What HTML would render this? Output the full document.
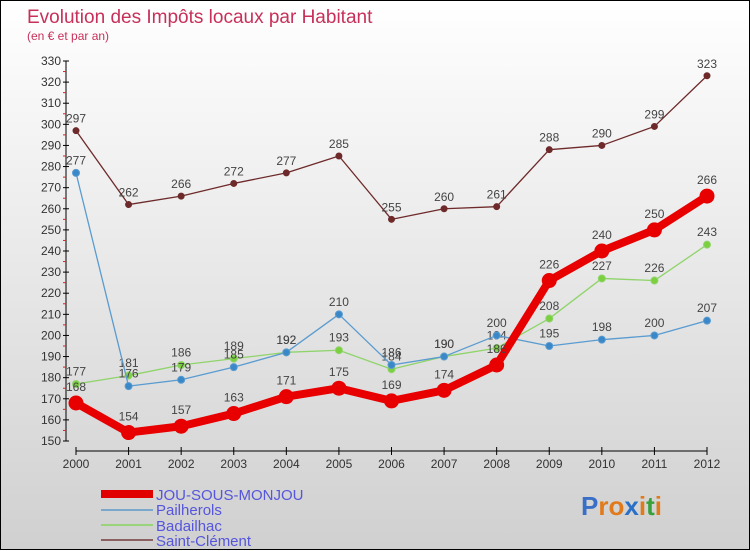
<!DOCTYPE html>
<html><head><meta charset="utf-8"><style>
body{margin:0;width:750px;height:550px;overflow:hidden;font-family:"Liberation Sans","DejaVu Sans",sans-serif;}
#wrap{position:relative;width:748px;height:548px;border:1px solid #000;background:linear-gradient(#ffffff,#d0d0d0);}
svg{position:absolute;left:0;top:0}
</style></head><body>
<div id="wrap">
<svg id="chart" width="750" height="550">
<text x="26" y="22" font-size="19" fill="#c8305a">Evolution des Impôts locaux par Habitant</text>
<text x="26" y="39" font-size="12" fill="#c8305a">(en € et par an)</text>
<g id="axes"></g><g id="series"></g>
<g>
<rect x="100" y="489" width="52" height="8" fill="#e00000"/>
<text x="155" y="499" font-size="15" fill="#5555dd">JOU-SOUS-MONJOU</text>
<line x1="100" y1="509" x2="152" y2="509" stroke="#7aa7cc" stroke-width="2"/>
<text x="155" y="514" font-size="15" fill="#5555dd">Pailherols</text>
<line x1="100" y1="524" x2="152" y2="524" stroke="#99d47a" stroke-width="2"/>
<text x="155" y="530" font-size="15" fill="#5555dd">Badailhac</text>
<line x1="100" y1="539" x2="152" y2="539" stroke="#8a6060" stroke-width="2"/>
<text x="155" y="545" font-size="15" fill="#5555dd">Saint-Clément</text>
</g>
<g font-size="26" font-weight="bold">
<text x="580" y="514"><tspan fill="#3a6fc8">P</tspan><tspan fill="#e07a1a">r</tspan><tspan fill="#e07a1a">o</tspan><tspan fill="#2a6fc8">x</tspan><tspan fill="#e07a1a">i</tspan><tspan fill="#3aa03a">t</tspan><tspan fill="#e07a1a">i</tspan></text>
</g>
</svg>
</div>
<script>
const years=[2000,2001,2002,2003,2004,2005,2006,2007,2008,2009,2010,2011,2012];
const yTicks=[150,160,170,180,190,200,210,220,230,240,250,260,270,280,290,300,310,320,330];
const jou=[168,154,157,163,171,175,169,174,186,226,240,250,266];
const pailherols=[277,176,179,185,192,210,186,190,200,195,198,200,207];
const badailhac=[177,181,186,189,192,193,184,190,194,208,227,226,243];
const saintClement=[297,262,266,272,277,285,255,260,261,288,290,299,323];

const NS="http://www.w3.org/2000/svg";
const x=i=>75+i*(706-75)/(years.length-1);
const y=v=>440-(v-150)*(380/180);
function mk(tag,attrs,parent){const e=document.createElementNS(NS,tag);for(const k in attrs)e.setAttribute(k,attrs[k]);parent.appendChild(e);return e;}
const axes=document.getElementById('axes');
const yl=mk('line',{x1:65,y1:60,x2:65,y2:440,stroke:'#000'},axes);


const xl=mk('line',{x1:75,y1:450,x2:706,y2:450,stroke:'#000'},axes);


yTicks.forEach((t,i)=>{
  mk('line',{x1:62,y1:y(t),x2:68,y2:y(t),stroke:'#000'},axes);
  if(i<yTicks.length-1) mk('line',{x1:62,y1:y(t+5),x2:65,y2:y(t+5),stroke:'#e02020'},axes);
  const tx=mk('text',{x:60,y:y(t)+4,'font-size':12,'text-anchor':'end',fill:'#333'},axes);
  tx.textContent=t;
  
  
});
years.forEach((yr,i)=>{
  mk('line',{x1:x(i),y1:446,x2:x(i),y2:454,stroke:'#000'},axes);
  const tx=mk('text',{x:x(i),y:467,'font-size':12,'text-anchor':'middle',fill:'#333'},axes);
  tx.textContent=yr;
  
  
});
const sg=document.getElementById('series');
function draw(data,color,w,r,name,ptColor){
  const g=mk('g',{},sg);
  
  
  const pl=mk('polyline',{points:data.map((v,i)=>x(i)+','+y(v)).join(' '),fill:'none',stroke:color,'stroke-width':w,'stroke-linejoin':'round'},g);
  
  
  data.forEach((v,i)=>{
    const c=mk('circle',{cx:x(i),cy:y(v),r:r,fill:ptColor,stroke:color,'stroke-width':1},g);
    
    
    const t=mk('text',{x:x(i),y:y(v)-(r+5),'font-size':12,'text-anchor':'middle',fill:'#444'},g);
    t.textContent=v;
    
    
  });
}
draw(saintClement,'#6e2a2a',1.3,3,'saint-clement','#6e2a2a');
draw(badailhac,'#8fd46a',1.3,3.5,'badailhac','#7cd040');
draw(pailherols,'#5a9bd0',1.3,3.5,'pailherols','#3a88c8');
draw(jou,'#e80000',8,7,'jou-sous-monjou','#e80000');
</script>
</body></html>
